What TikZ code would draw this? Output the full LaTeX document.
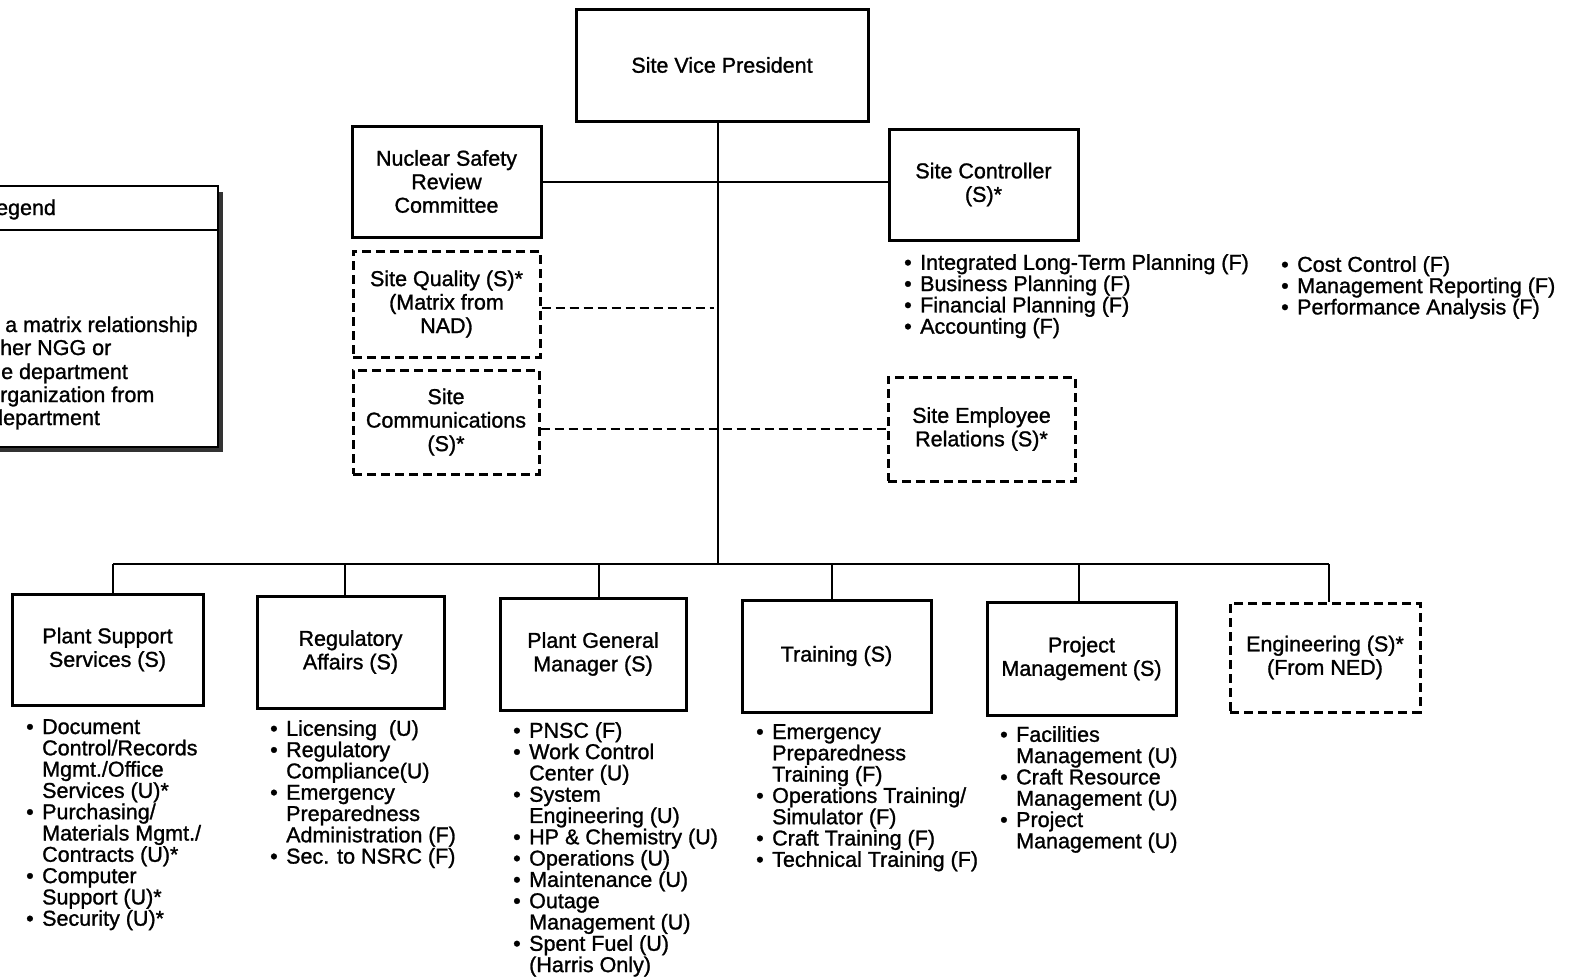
\documentclass[tikz,border=0pt]{standalone}
\usepackage{fontspec}
\setmainfont{Liberation Sans}[FakeBold=1.2]
\newcommand\lblfont{\fontsize{21.5}{23.5}\selectfont}
\newcommand\lstfont{\fontsize{21.5}{21.3}\selectfont\lineskiplimit=-20pt}
\newcommand\myb[1]{\makebox[16pt][l]{•}#1}
\newcommand\myc[1]{\hspace*{16pt}#1}
\tikzset{
  box/.style={draw, line width=3pt, align=center, inner sep=0pt, font=\lblfont},
  dbox/.style={box, dash pattern=on 9pt off 5pt},
  conn/.style={line width=2.8pt},
  dconn/.style={line width=2.8pt, dash pattern=on 9pt off 5pt},
  lst/.style={anchor=north west, align=left, inner sep=0pt, font=\lstfont},
  lgt/.style={anchor=base west, inner sep=0pt, font=\lblfont},
}
\begin{document}
\begin{tikzpicture}[x=1pt,y=-1pt]
\useasboundingbox (0,0) rectangle (1572,978);
% legend (cut off at left)
\fill[black!80] (-6,192) rectangle (223,452);
\draw[line width=2.6pt, fill=white] (-10,186) rectangle (218,447);
\draw[line width=2.4pt] (-10,230) -- (218,230);
\node[lgt] (lg0) at (-16,215) {Legend};
\node[lgt] (lg1) at (5,332) {a matrix relationship};
\node[lgt] (lg2) at (0,355) {her NGG or};
\node[lgt] (lg3) at (1,379) {e department};
\node[lgt] (lg4) at (0,402) {rganization from};
\node[lgt] (lg5) at (-9,425) {department};
% top boxes
\node[box, minimum width=292pt, minimum height=112pt] (vp) at (722,65) {Site Vice President};
\node[box, minimum width=189pt, minimum height=111pt] (nsrc) at (446.5,181.5) {Nuclear Safety\\Review\\Committee};
\node[box, minimum width=189pt, minimum height=111pt] (ctrl) at (983.5,184.5) {Site Controller\\(S)*};
\node[dbox, minimum width=187pt, minimum height=106pt] (qual) at (446.5,304) {Site Quality (S)*\\(Matrix from\\NAD)};
\node[dbox, minimum width=186pt, minimum height=104pt] (comm) at (446,422) {Site\\Communications\\(S)*};
\node[dbox, minimum width=187pt, minimum height=104pt] (emp) at (981.5,429) {Site Employee\\Relations (S)*};
% controller lists
\node[lst] (cl1) at (904,254) {\myb{Integrated Long-Term Planning (F)}\\\myb{Business Planning (F)}\\\myb{Financial Planning (F)}\\\myb{Accounting (F)}};
\node[lst] (cl2) at (1281,256) {\myb{Cost Control (F)}\\\myb{Management Reporting (F)}\\\myb{Performance Analysis (F)}};
% bottom boxes
\node[box, minimum width=191pt, minimum height=111pt] (pss) at (107.5,649.5) {Plant Support\\Services (S)};
\node[box, minimum width=187pt, minimum height=112pt] (reg) at (350.5,652) {Regulatory\\Affairs (S)};
\node[box, minimum width=186pt, minimum height=112pt] (pgm) at (593,654) {Plant General\\Manager (S)};
\node[box, minimum width=189pt, minimum height=112pt] (trn) at (836.5,656) {Training (S)};
\node[box, minimum width=189pt, minimum height=113pt] (pm) at (1081.5,658.5) {Project\\Management (S)};
\node[dbox, minimum width=190pt, minimum height=109pt] (eng) at (1325,657.5) {Engineering (S)*\\(From NED)};
% bottom lists
\node[lst] (l1) at (26,719) {\myb{Document}\\\myc{Control/Records}\\\myc{Mgmt./Office}\\\myc{Services (U)*}\\\myb{Purchasing/}\\\myc{Materials Mgmt./}\\\myc{Contracts (U)*}\\\myb{Computer}\\\myc{Support (U)*}\\\myb{Security (U)*}};
\node[lst] (l2) at (270,720) {\myb{Licensing\ \ (U)}\\\myb{Regulatory}\\\myc{Compliance(U)}\\\myb{Emergency}\\\myc{Preparedness}\\\myc{Administration (F)}\\\myb{Sec. to NSRC (F)}};
\node[lst] (l3) at (513,722) {\myb{PNSC (F)}\\\myb{Work Control}\\\myc{Center (U)}\\\myb{System}\\\myc{Engineering (U)}\\\myb{HP \& Chemistry (U)}\\\myb{Operations (U)}\\\myb{Maintenance (U)}\\\myb{Outage}\\\myc{Management (U)}\\\myb{Spent Fuel (U)}\\\myc{(Harris Only)}};
\node[lst] (l4) at (756,724) {\myb{Emergency}\\\myc{Preparedness}\\\myc{Training (F)}\\\myb{Operations Training/}\\\myc{Simulator (F)}\\\myb{Craft Training (F)}\\\myb{Technical Training (F)}};
\node[lst] (l5) at (1000,726) {\myb{Facilities}\\\myc{Management (U)}\\\myb{Craft Resource}\\\myc{Management (U)}\\\myb{Project}\\\myc{Management (U)}};
% connectors
\coordinate (busc) at (718,564);
\coordinate (qend) at (714,308);
\draw[conn] (vp.south -| busc) -- (busc);
\draw[conn] (nsrc.east |- 0,182) -- (ctrl.west |- 0,182);
\draw[dconn] (qual.east |- qend) -- (qend);
\draw[dconn] (comm.east |- emp.west) -- (emp.west);
\draw[conn] ([xshift=5.5pt]pss.north |- busc) -- ([xshift=4pt]eng.north |- busc);
\draw[conn] ([xshift=5.5pt]pss.north |- busc) -- ([xshift=5.5pt]pss.north);
\draw[conn] ([xshift=-5.5pt]reg.north |- busc) -- ([xshift=-5.5pt]reg.north);
\draw[conn] ([xshift=6pt]pgm.north |- busc) -- ([xshift=6pt]pgm.north);
\draw[conn] ([xshift=-4.5pt]trn.north |- busc) -- ([xshift=-4.5pt]trn.north);
\draw[conn] ([xshift=-2.5pt]pm.north |- busc) -- ([xshift=-2.5pt]pm.north);
\draw[conn] ([xshift=4pt]eng.north |- busc) -- ([xshift=4pt]eng.north);
\end{tikzpicture}
\end{document}
